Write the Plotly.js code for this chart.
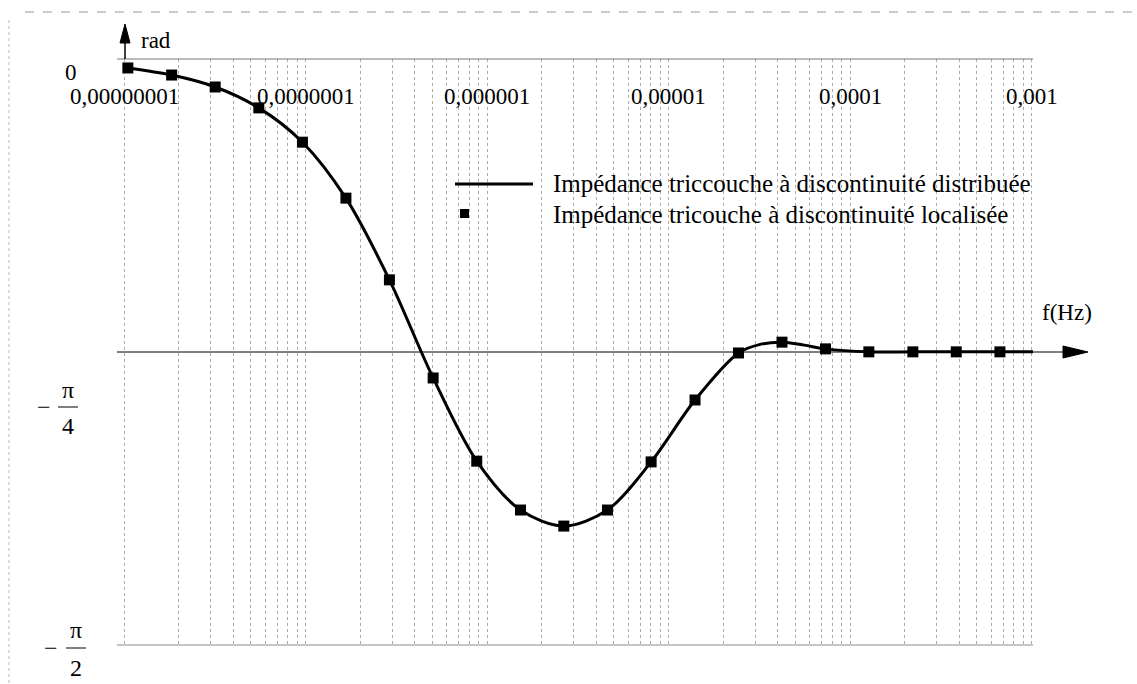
<!DOCTYPE html>
<html>
<head>
<meta charset="utf-8">
<script src="https://cdn.plot.ly/plotly-3.0.1.min.js"></script>
<style>
  html, body { margin: 0; padding: 0; background: #fff; }
  #chart { width: 1137px; height: 684px; }
</style>
</head>
<body>
<div id="chart"></div>
<script>
// Frequencies (Hz) of the computed points
const freqLoc = [1.05e-8, 1.83e-8, 3.18e-8, 5.53e-8, 9.62e-8, 1.67e-7, 2.90e-7, 5.05e-7,
                 8.78e-7, 1.53e-6, 2.65e-6, 4.61e-6, 8.02e-6, 1.40e-5, 2.43e-5, 4.22e-5,
                 7.33e-5, 1.27e-4, 2.22e-4, 3.85e-4, 6.70e-4];
// Phase (rad) of the tri-layer impedance with localised discontinuity
const phaseLoc = [-0.024, -0.043, -0.075, -0.131, -0.223, -0.373, -0.592, -0.855,
                  -1.078, -1.209, -1.252, -1.209, -1.080, -0.914, -0.788, -0.759,
                  -0.777, -0.785, -0.785, -0.785, -0.785];

// Phase (rad) of the tri-layer impedance with distributed discontinuity
const freqDist = [1.05e-8, 1.83e-8, 3.18e-8, 5.53e-8, 9.62e-8, 1.67e-7, 2.90e-7, 5.05e-7,
                  8.78e-7, 1.53e-6, 2.65e-6, 4.61e-6, 8.02e-6, 1.40e-5, 2.43e-5, 3.2e-5,
                  4.22e-5, 5.6e-5, 7.33e-5, 1.27e-4, 2.22e-4, 3.85e-4, 6.70e-4, 1.04e-3];
const phaseDist = [-0.024, -0.043, -0.075, -0.131, -0.223, -0.373, -0.592, -0.855,
                   -1.078, -1.209, -1.252, -1.209, -1.080, -0.914, -0.788, -0.765,
                   -0.759, -0.767, -0.777, -0.785, -0.785, -0.785, -0.785, -0.785];

// Decade tick labels (French decimal notation)
const decadeVals = [1e-8, 1e-7, 1e-6, 1e-5, 1e-4, 1e-3];
const decadeText = ['0,00000001', '0,0000001', '0,000001', '0,00001', '0,0001', '0,001'];

// Legend labels
const nameDist = 'Impédance triccouche à discontinuité distribuée';
const nameLoc = 'Impédance tricouche à discontinuité localisée';

// Plot box in page pixels
const L = 117, R = 1033, T = 59, B = 645;
const W = 1137, H = 684;
const px = x => (x - L) / (R - L);
const py = y => (B - y) / (B - T);

// Dotted log grid: every 1..9 multiple of each decade
const gridVals = [];
decadeVals.forEach(d => { for (let m = 1; m <= 9; m++) { if (d * m <= 1e-3 * 1.0001) gridVals.push(d * m); } });

const serif = 'Liberation Serif, Times New Roman, serif';
const txt = (size) => ({ family: serif, size: size, color: '#000' });

const traces = [
  {
    x: freqDist, y: phaseDist, type: 'scatter', mode: 'lines', name: nameDist,
    line: { color: '#000', width: 3, shape: 'spline', smoothing: 0.9 },
    cliponaxis: false, showlegend: false, hoverinfo: 'skip'
  },
  {
    x: freqLoc, y: phaseLoc, type: 'scatter', mode: 'markers', name: nameLoc,
    marker: { symbol: 'square', size: 11, color: '#000' },
    cliponaxis: false, showlegend: false
  }
];

const annotations = [];
const shapes = [];

// Decade labels under the top line
decadeVals.forEach((v, i) => {
  annotations.push({
    x: Math.log10(v), xref: 'x', y: py(96), yref: 'paper', text: decadeText[i],
    showarrow: false, xanchor: 'center', yanchor: 'middle', font: txt(23)
  });
});

// Axis names
annotations.push({ x: px(139), y: py(40), xref: 'paper', yref: 'paper', text: 'rad',
  showarrow: false, xanchor: 'left', yanchor: 'middle', font: txt(23) });
annotations.push({ x: px(1067), y: py(312), xref: 'paper', yref: 'paper', text: 'f(Hz)',
  showarrow: false, xanchor: 'center', yanchor: 'middle', font: txt(23) });

// Y labels: 0, -π/4, -π/2
annotations.push({ x: px(71), y: py(72), xref: 'paper', yref: 'paper', text: '0',
  showarrow: false, xanchor: 'center', yanchor: 'middle', font: txt(23) });

function fracLabel(xMinus, xFrac, yNum, yBar, yDen, den) {
  annotations.push({ x: px(xMinus), y: py(yBar), xref: 'paper', yref: 'paper', text: '−',
    showarrow: false, xanchor: 'center', yanchor: 'middle', font: txt(24) });
  annotations.push({ x: px(xFrac), y: py(yNum), xref: 'paper', yref: 'paper', text: 'π',
    showarrow: false, xanchor: 'center', yanchor: 'middle', font: txt(24) });
  annotations.push({ x: px(xFrac), y: py(yDen), xref: 'paper', yref: 'paper', text: den,
    showarrow: false, xanchor: 'center', yanchor: 'middle', font: txt(24) });
  shapes.push({ type: 'line', xref: 'paper', yref: 'paper', x0: px(xFrac - 10), x1: px(xFrac + 10),
    y0: py(yBar), y1: py(yBar), line: { color: '#000', width: 1 } });
}
fracLabel(44, 68, 390, 407, 426, '4');
fracLabel(51, 76, 630, 648, 668, '2');

// Legend
shapes.push({ type: 'line', xref: 'paper', yref: 'paper', x0: px(455), x1: px(533),
  y0: py(184), y1: py(184), line: { color: '#000', width: 3 } });
shapes.push({ type: 'rect', xref: 'paper', yref: 'paper', x0: px(460), x1: px(469),
  y0: py(209), y1: py(218), fillcolor: '#000', line: { width: 0 } });
annotations.push({ x: px(551), y: py(184), xref: 'paper', yref: 'paper', text: nameDist,
  showarrow: false, xanchor: 'left', yanchor: 'middle', font: txt(25) });
annotations.push({ x: px(551), y: py(214), xref: 'paper', yref: 'paper', text: nameLoc,
  showarrow: false, xanchor: 'left', yanchor: 'middle', font: txt(25) });

// Top (0) and bottom (-π/2) reference lines
shapes.push({ type: 'line', xref: 'paper', yref: 'paper', x0: 0, x1: 1, y0: 1, y1: 1,
  line: { color: '#777', width: 1 } });
shapes.push({ type: 'line', xref: 'paper', yref: 'paper', x0: 0, x1: 1, y0: 0, y1: 0,
  line: { color: '#888', width: 1 } });
// Frequency axis at -π/4 with arrow
shapes.push({ type: 'line', xref: 'paper', yref: 'paper', x0: 0, x1: px(1064), y0: 0.5, y1: 0.5,
  line: { color: '#000', width: 1 } });
shapes.push({ type: 'path', xref: 'paper', yref: 'paper',
  path: `M ${px(1063)},${py(346)} L ${px(1088)},${py(352)} L ${px(1063)},${py(358)} Z`,
  fillcolor: '#000', line: { color: '#000', width: 1 } });
// Phase axis arrow
shapes.push({ type: 'line', xref: 'paper', yref: 'paper', x0: px(125), x1: px(125), y0: py(59), y1: py(38),
  line: { color: '#000', width: 1.5 } });
shapes.push({ type: 'path', xref: 'paper', yref: 'paper',
  path: `M ${px(120)},${py(43)} L ${px(125)},${py(24)} L ${px(130)},${py(43)} Z`,
  fillcolor: '#000', line: { color: '#000', width: 1 } });
// Page frame
shapes.push({ type: 'line', xref: 'paper', yref: 'paper', x0: px(25), x1: px(1137), y0: py(12), y1: py(12),
  line: { color: '#999', width: 1, dash: 'dash' } });
shapes.push({ type: 'line', xref: 'paper', yref: 'paper', x0: px(9), x1: px(9), y0: py(20), y1: py(684),
  line: { color: '#bbb', width: 1, dash: 'dot' } });

const layout = {
  width: W, height: H,
  margin: { l: L, r: W - R, t: T, b: H - B, pad: 0 },
  paper_bgcolor: '#fff', plot_bgcolor: '#fff',
  showlegend: false,
  xaxis: {
    type: 'log',
    range: [Math.log10(1e-8) - 7 / 181.5, Math.log10(1e-8) + (R - 124) / 181.5],
    tickmode: 'array', tickvals: gridVals, showticklabels: false, ticks: '',
    showgrid: true, gridcolor: '#aaa', griddash: 'dot', gridwidth: 1,
    zeroline: false, showline: false
  },
  yaxis: {
    range: [-Math.PI / 2, 0],
    showgrid: false, zeroline: false, showline: false, showticklabels: false, ticks: ''
  },
  shapes: shapes,
  annotations: annotations,
  font: { family: serif }
};

Plotly.newPlot('chart', traces, layout, { displayModeBar: false, staticPlot: true });
</script>
</body>
</html>
